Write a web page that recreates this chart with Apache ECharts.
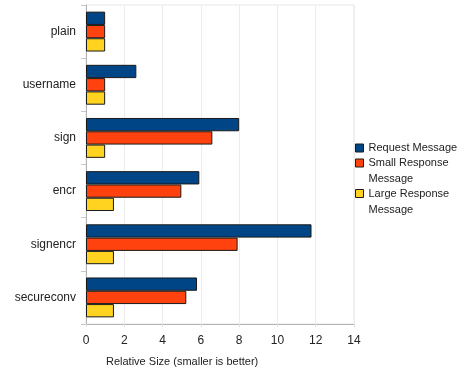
<!DOCTYPE html>
<html><head><meta charset="utf-8">
<script src="https://cdn.jsdelivr.net/npm/echarts@6/dist/echarts.min.js"></script>
<style>html,body{margin:0;padding:0;background:#fff}#c{width:472px;height:374px}</style>
</head><body><div id="c"></div>
<script>
const categories = ["plain","username","sign","encr","signencr","secureconv"];
const requestMsg = [1.0, 2.63, 8.0, 5.92, 11.78, 5.8];
const smallResp = [1.0, 1.0, 6.6, 4.98, 7.92, 5.24];
const largeResp = [1.0, 1.0, 1.0, 1.46, 1.46, 1.46];
const xTicks = [0,2,4,6,8,10,12,14];
const seriesNames = ["Request Message","Small Response Message","Large Response Message"];
const legendLabels = {"Request Message":"Request Message","Small Response Message":"\nSmall Response\nMessage","Large Response Message":"\nLarge Response\nMessage"};
const colors = ["#004586","#ff420e","#ffd320"];
const font = "Liberation Sans, Arial, sans-serif";
const chart = echarts.init(document.getElementById('c'));
const mk = (name, data, color) => ({
  name, type:'bar', data, barGap:'0%', barCategoryGap:'25%',
  itemStyle:{color, borderColor:'#1a1a1a', borderWidth:1},
  emphasis:{disabled:true}, animation:false
});
const legendTops = [140, 139, 169.5];
const legends = seriesNames.map((n,i)=>({
  orient:'vertical',left:355,top:legendTops[i],padding:0,itemWidth:8,itemHeight:8,
  icon:'rect',selectedMode:false,
  data:[{name:n,itemStyle:{color:colors[i],borderColor:'#1a1a1a',borderWidth:1}}],
  formatter:x=>legendLabels[x],
  textStyle:{fontSize:11,color:'#222',fontFamily:font,lineHeight:16}
}));
chart.setOption({
  animation:false,
  textStyle:{fontFamily:font},
  grid:{left:86,right:118,top:5,bottom:50,show:true,borderColor:'#e6e6e6',borderWidth:1},
  xAxis:{type:'value',min:0,max:14,interval:2,
    axisLine:{show:true,lineStyle:{color:'#b3b3b3'}},
    axisTick:{show:true,length:3,lineStyle:{color:'#e0e0e0'}},
    splitLine:{show:true,lineStyle:{color:'#ececec'}},
    axisLabel:{color:'#222',fontSize:12,fontFamily:font,margin:11,formatter:v=>xTicks.includes(v)?String(v):''}
  },
  yAxis:{type:'category',data:categories,inverse:true,
    axisLine:{show:true,lineStyle:{color:'#b3b3b3'}},
    axisTick:{show:true,length:5,lineStyle:{color:'#c8c8c8'}},
    axisLabel:{color:'#222',fontSize:12,fontFamily:font,margin:10}
  },
  legend:legends,
  graphic:[{type:'text',left:106,top:356,style:{text:'Relative Size (smaller is better)',fontSize:11,fill:'#222',fontFamily:font}}],
  series:[mk(seriesNames[0],requestMsg,colors[0]),mk(seriesNames[1],smallResp,colors[1]),mk(seriesNames[2],largeResp,colors[2])]
});
</script></body></html>
